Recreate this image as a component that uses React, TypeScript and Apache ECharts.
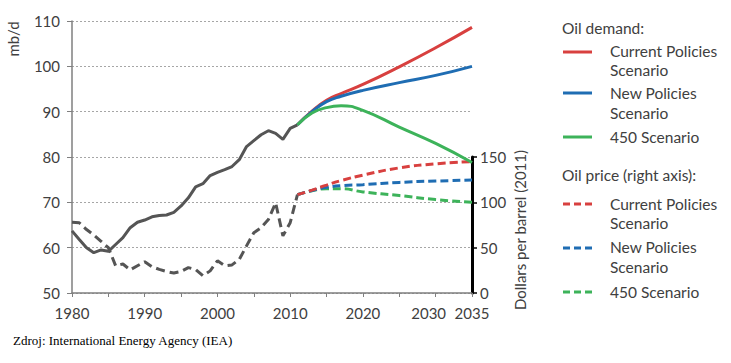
import React, { useEffect, useRef } from "react";
import * as echarts from "echarts";

const histYears = [1980, 1981, 1982, 1983, 1984, 1985, 1986, 1987, 1988, 1989, 1990, 1991, 1992, 1993, 1994, 1995, 1996, 1997, 1998, 1999, 2000, 2001, 2002, 2003, 2004, 2005, 2006, 2007, 2008, 2009, 2010, 2011];
const demandHistory = [63.7, 61.8, 60.0, 58.9, 59.5, 59.2, 60.7, 62.2, 64.4, 65.6, 66.1, 66.8, 67.1, 67.2, 67.8, 69.2, 71.0, 73.4, 74.1, 75.9, 76.6, 77.2, 77.9, 79.4, 82.3, 83.6, 84.9, 85.8, 85.2, 83.9, 86.3, 87.1];
const priceHistory = [78, 77.5, 70, 64, 57, 50, 30, 32, 25.5, 30, 34.5, 29, 26, 23.7, 22, 23.7, 28, 26, 19, 24.4, 35.5, 30, 31, 37, 52, 66.5, 72, 81, 99.5, 63, 77.5, 108.5];

const projYears = [2011, 2013, 2015, 2017, 2020, 2025, 2030, 2035];
const demandCPS = [87.1, 90.1, 92.5, 94.0, 96.0, 99.9, 104.1, 108.6];
const demandNPS = [87.1, 90.0, 92.2, 93.4, 94.7, 96.4, 98.0, 100.0];
const demand450 = [87.1, 89.7, 90.9, 91.3, 90.3, 86.6, 83.0, 78.8];
const priceCPS = [108.5, 113.5, 119, 124, 130, 138, 142.5, 145];
const priceNPS = [108.5, 113, 116.5, 118.4, 119.5, 122, 123.5, 124.5];
const price450 = [108.5, 112.8, 115, 115, 111.5, 107.5, 103, 100];

const xTickLabels = [1980, 1990, 2000, 2010, 2020, 2030, 2035];

const RED = "#d8403f";
const BLUE = "#1f6db3";
const GREEN = "#3db35a";
const GRAY = "#555555";
const TXT = "#404040";
const FONT = "Lato";

const pairs = (xs: number[], ys: number[]) => xs.map((x, i) => [x, ys[i]]);

export default function App() {
  const ref = useRef<HTMLDivElement>(null);
  useEffect(() => {
    if (!ref.current) return;
    const chart = echarts.init(ref.current, undefined, { renderer: "svg" });
    const solid = (name: string, data: number[][], color: string, smooth: boolean, z: number) => ({
      name, type: "line", data, xAxisIndex: 0, yAxisIndex: 0, showSymbol: false, symbol: "none",
      smooth, z, lineStyle: { color, width: 3 },
    });
    const dashed = (name: string, data: number[][], color: string, smooth: boolean, dash: number[], z: number) => ({
      name, type: "line", data, xAxisIndex: 1, yAxisIndex: 1, showSymbol: false, symbol: "none",
      smooth, z, lineStyle: { color, width: 3, type: dash },
    });
    const legendText = (text: string, x: number, y: number) => ({
      type: "text", x, y, style: { text, fill: TXT, fontSize: 15.5, fontFamily: FONT, align: "left", verticalAlign: "middle" },
    });
    const legendLine = (y: number, color: string, dash?: number[]) => ({
      type: "line", shape: { x1: 563, y1: y, x2: 592, y2: y },
      style: { stroke: color, lineWidth: 3, lineDash: dash },
    });
    chart.setOption({
      animation: false,
      backgroundColor: "#ffffff",
      grid: [
        { left: 72, right: 259, top: 21, bottom: 70 },
        { left: 72, right: 259, top: 157, bottom: 70 },
      ],
      xAxis: [
        {
          type: "value", gridIndex: 0, min: 1980, max: 2035, interval: 5,
          axisLine: { lineStyle: { color: "#7f7f7f", width: 1.5 } },
          axisTick: { show: true, length: 4, lineStyle: { color: "#7f7f7f" } },
          axisLabel: {
            color: TXT, fontSize: 15, fontFamily: FONT, margin: 12,
            formatter: (v: number) => {
              if (!xTickLabels.includes(v)) return "";
              if (v === 2030) return "{s|" + v + "}";
              return String(v);
            },
            rich: {
              s: { color: TXT, fontSize: 15, fontFamily: FONT, padding: [0, 14, 0, 0] },
            },
          },
          splitLine: { show: false },
        },
        { type: "value", gridIndex: 1, min: 1980, max: 2035, show: false },
      ],
      yAxis: [
        {
          type: "value", gridIndex: 0, min: 50, max: 110, interval: 10, position: "left",
          axisLine: { show: true, lineStyle: { color: "#7f7f7f", width: 1.5 } },
          axisTick: { show: true, length: 5, lineStyle: { color: "#7f7f7f" } },
          axisLabel: { color: TXT, fontSize: 15, fontFamily: FONT, margin: 12 },
          splitLine: { show: true, lineStyle: { color: "#a6a6a6", type: [2, 2], width: 1 } },
        },
        {
          type: "value", gridIndex: 1, min: 0, max: 150, interval: 50, position: "right",
          axisLine: { show: true, lineStyle: { color: "#000000", width: 3 } },
          axisTick: { show: true, length: 5, lineStyle: { color: "#000000", width: 1.5 } },
          axisLabel: { color: TXT, fontSize: 15, fontFamily: FONT, margin: 8 },
          splitLine: { show: false },
        },
      ],
      series: [
        dashed("Oil price history", pairs(histYears, priceHistory), GRAY, false, [9, 5], 2),
        solid("Oil demand history", pairs(histYears, demandHistory), GRAY, false, 2),
        dashed("Oil price 450 Scenario", pairs(projYears, price450), GREEN, true, [8, 4], 3),
        dashed("Oil price New Policies Scenario", pairs(projYears, priceNPS), BLUE, true, [8, 4], 3),
        dashed("Oil price Current Policies Scenario", pairs(projYears, priceCPS), RED, true, [8, 4], 3),
        solid("Oil demand Current Policies Scenario", pairs(projYears, demandCPS), RED, true, 4),
        solid("Oil demand New Policies Scenario", pairs(projYears, demandNPS), BLUE, true, 4),
        solid("Oil demand 450 Scenario", pairs(projYears, demand450), GREEN, true, 4),
      ],
      graphic: [
        {
          type: "text", x: 13, y: 39, rotation: Math.PI / 2,
          style: { text: "mb/d", fill: TXT, fontSize: 15, fontFamily: FONT, align: "center", verticalAlign: "middle" },
        },
        {
          type: "text", x: 520, y: 230, rotation: Math.PI / 2,
          style: { text: "Dollars per barrel (2011)", fill: TXT, fontSize: 15, fontFamily: FONT, align: "center", verticalAlign: "middle" },
        },
        {
          type: "text", x: 13, y: 340,
          style: { text: "Zdroj: International Energy Agency (IEA)", fill: "#000000", fontSize: 13, fontFamily: "Liberation Serif", align: "left", verticalAlign: "middle" },
        },
        legendText("Oil demand:", 562, 28),
        legendLine(52, RED),
        legendText("Current Policies", 610, 51),
        legendText("Scenario", 610, 70),
        legendLine(93, BLUE),
        legendText("New Policies", 610, 93),
        legendText("Scenario", 610, 113),
        legendLine(137, GREEN),
        legendText("450 Scenario", 610, 137),
        legendText("Oil price (right axis):", 562, 175),
        legendLine(204, RED, [7, 4]),
        legendText("Current Policies", 610, 204),
        legendText("Scenario", 610, 223),
        legendLine(248, BLUE, [7, 4]),
        legendText("New Policies", 610, 247),
        legendText("Scenario", 610, 267),
        legendLine(292, GREEN, [7, 4]),
        legendText("450 Scenario", 610, 292),
      ],
    });
    return () => chart.dispose();
  }, []);
  return (
    <div
      ref={ref}
      style={{ position: "fixed", left: 0, top: 0, width: 731, height: 363, background: "#ffffff" }}
    />
  );
}
